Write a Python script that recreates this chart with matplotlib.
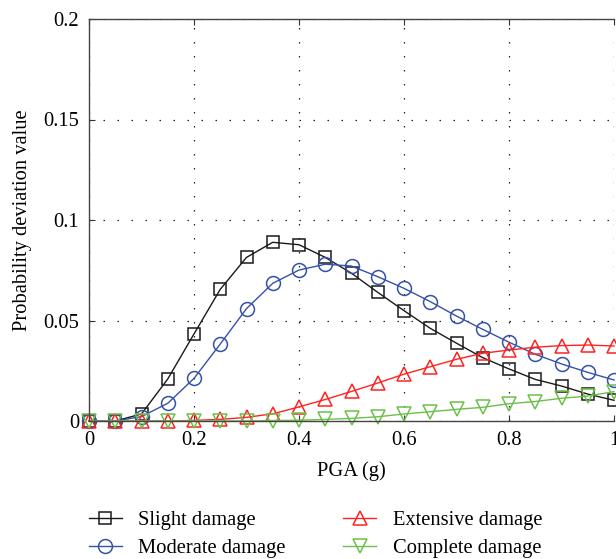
import matplotlib
matplotlib.use("Agg")
import matplotlib.pyplot as plt
import numpy as np

pga = [0.0, 0.05, 0.10, 0.15, 0.20, 0.25, 0.30, 0.35, 0.40, 0.45, 0.50,
       0.55, 0.60, 0.65, 0.70, 0.75, 0.80, 0.85, 0.90, 0.95, 1.00]
slight = [0, 0, 0.0035, 0.0209, 0.0433, 0.0655, 0.0814, 0.0889, 0.0877, 0.0814, 0.0735,
          0.0640, 0.0549, 0.0461, 0.0387, 0.0315, 0.0259, 0.0207, 0.0174, 0.0134, 0.0103]
moderate = [0, 0, 0.0022, 0.0088, 0.0212, 0.0383, 0.0559, 0.0685, 0.0751, 0.0780, 0.0771,
            0.0718, 0.0660, 0.0594, 0.0522, 0.0456, 0.0392, 0.0332, 0.0284, 0.0242, 0.0204]
extensive = [0, 0, 0, 0, 0.0003, 0.0008, 0.0018, 0.0036, 0.0070, 0.0107, 0.0147,
             0.0189, 0.0233, 0.0270, 0.0307, 0.0337, 0.0353, 0.0367, 0.0375, 0.0378, 0.0373]
complete = [0, 0, 0, 0, 0, 0, 0, 0.0002, 0.0004, 0.0008, 0.0013,
            0.0021, 0.0035, 0.0046, 0.0058, 0.0068, 0.0086, 0.0097, 0.0113, 0.0124, 0.0146]

labels = ["Slight damage", "Moderate damage", "Extensive damage", "Complete damage"]
xticks = [0, 0.2, 0.4, 0.6, 0.8, 1.0]
xticklabels = ["0", "0.2", "0.4", "0.6", "0.8", "1"]
yticks = [0, 0.05, 0.1, 0.15, 0.2]
yticklabels = ["0", "0.05", "0.1", "0.15", "0.2"]

plt.rcParams['font.family'] = ['Liberation Serif', 'DejaVu Serif']
FS = 14.8

W, H = 616, 559
fig = plt.figure(figsize=(W / 100, H / 100), dpi=100)
left, right, top, bottom = 89, 614, 19, 421
ax = fig.add_axes([left / W, 1 - bottom / H, (right - left) / W, (bottom - top) / H])

styles = [
    dict(color='#1a1a1a', marker='s', ms=8.0),
    dict(color='#3552a8', marker='o', ms=10.0),
    dict(color='#ff2222', marker='^', ms=9.5),
    dict(color='#6cc04a', marker='v', ms=9.5),
]
series = [slight, moderate, extensive, complete]
for ys, st, lab in zip(series, styles, labels):
    ax.plot(pga, ys, color=st['color'], marker=st['marker'], ms=st['ms'],
            mfc='none', mec=st['color'], mew=1.1, lw=1.0, label=lab, clip_on=False)

ax.set_xlim(0, 1.0)
ax.set_ylim(0, 0.2)
ax.set_xticks(xticks)
ax.set_xticklabels(xticklabels)
ax.set_yticks(yticks)
ax.set_yticklabels(yticklabels)
ax.tick_params(direction='in', length=4, labelsize=FS, top=True, color='#333333')
ax.tick_params(axis='x', pad=7)
ax.tick_params(axis='y', pad=7)
ax.spines['right'].set_visible(False)
for s in ['left', 'top', 'bottom']:
    ax.spines[s].set_color('#444444')
    ax.spines[s].set_linewidth(1.0)
ax.grid(True, color='#222222', linestyle=(0, (1.2, 10)), linewidth=0.9)
ax.set_axisbelow(True)

ax.set_xlabel("PGA (g)", fontsize=FS, labelpad=8)
ax.set_ylabel("Probability deviation value", fontsize=FS, labelpad=8)

handles, labs = ax.get_legend_handles_labels()
fig.legend(handles, labs, loc='upper left', bbox_to_anchor=(left / W, 1 - 511 / H),
           ncol=2, frameon=False, fontsize=FS, borderpad=0, borderaxespad=0,
           handlelength=1.6, handletextpad=0.8, columnspacing=2.8, labelspacing=0.4,
           numpoints=1)

fig.savefig("out.png", dpi=100)
